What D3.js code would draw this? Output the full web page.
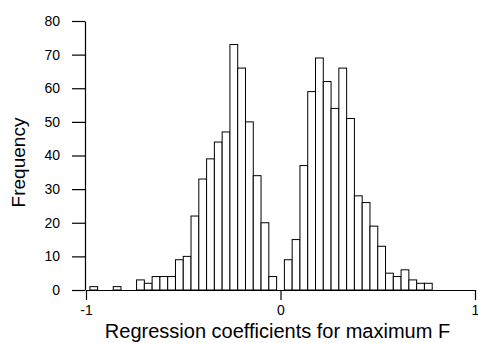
<!DOCTYPE html>
<html>
<head>
<meta charset="utf-8">
<script src="https://cdn.jsdelivr.net/npm/d3@7"></script>
<style>
  html, body { margin: 0; padding: 0; background: #fff; }
  svg { display: block; font-family: "Liberation Sans", Arial, sans-serif; }
</style>
</head>
<body>
<svg id="chart" width="478" height="343"></svg>
<script>
// Bin centres (width 0.04) and frequencies
const binCenters = [-0.96, -0.92, -0.88, -0.84, -0.80, -0.76, -0.72, -0.68, -0.64, -0.60,
  -0.56, -0.52, -0.48, -0.44, -0.40, -0.36, -0.32, -0.28, -0.24, -0.20,
  -0.16, -0.12, -0.08, -0.04, 0.00, 0.04, 0.08, 0.12, 0.16, 0.20,
  0.24, 0.28, 0.32, 0.36, 0.40, 0.44, 0.48, 0.52, 0.56, 0.60,
  0.64, 0.68, 0.72, 0.76];
const counts = [1, 0, 0, 1, 0, 0, 3, 2, 4, 4,
  4, 9, 10, 22, 33, 39, 44, 47, 73, 66,
  50, 34, 20, 4, 0, 9, 15, 37, 59, 69,
  62, 54, 66, 51, 28, 26, 19, 13, 5, 4,
  6, 3, 2, 2];
const binWidth = 0.04;
const xTicks = [-1, 0, 1];
const yTicks = [0, 10, 20, 30, 40, 50, 60, 70, 80];
const xLabel = "Regression coefficients for maximum F";
const yLabel = "Frequency";

const svg = d3.select("#chart");
const x = d3.scaleLinear().domain([-1, 1]).range([86, 475]);
const y = d3.scaleLinear().domain([0, 80]).range([290, 21]);

const bins = binCenters.map((c, i) => ({ c, n: counts[i] })).filter(d => d.n > 0);

svg.append("g").selectAll("rect").data(bins).join("rect")
  .attr("x", d => x(d.c - binWidth / 2))
  .attr("y", d => y(d.n))
  .attr("width", d => x(d.c + binWidth / 2) - x(d.c - binWidth / 2))
  .attr("height", d => y(0) - y(d.n))
  .attr("fill", "#fff")
  .attr("stroke", "#000")
  .attr("stroke-width", 1);

// Y axis
const yAxis = svg.append("g").attr("transform", "translate(85,0)")
  .call(d3.axisLeft(y).tickValues(yTicks).tickSize(13).tickSizeOuter(0).tickPadding(12));
// X axis
const xAxis = svg.append("g").attr("transform", "translate(0,290)")
  .call(d3.axisBottom(x).tickValues(xTicks).tickSize(10).tickSizeOuter(0).tickPadding(5)
    .tickFormat(d3.format("d")));

[yAxis, xAxis].forEach(g => {
  g.selectAll("path, line").attr("stroke", "#000").attr("stroke-width", 1.2);
  g.selectAll("text").attr("font-size", 14).attr("fill", "#000")
    .attr("font-family", "'Liberation Sans', Arial, sans-serif");
});
xAxis.selectAll("text").text(d => d < 0 ? "-" + Math.abs(d) : d);

svg.append("text")
  .attr("transform", "translate(24.5,162.5) rotate(-90)")
  .attr("text-anchor", "middle")
  .attr("font-size", 19)
  .text(yLabel);

svg.append("text")
  .attr("x", 277.5).attr("y", 337.5)
  .attr("text-anchor", "middle")
  .attr("font-size", 20)
  .text(xLabel);
</script>
</body>
</html>
